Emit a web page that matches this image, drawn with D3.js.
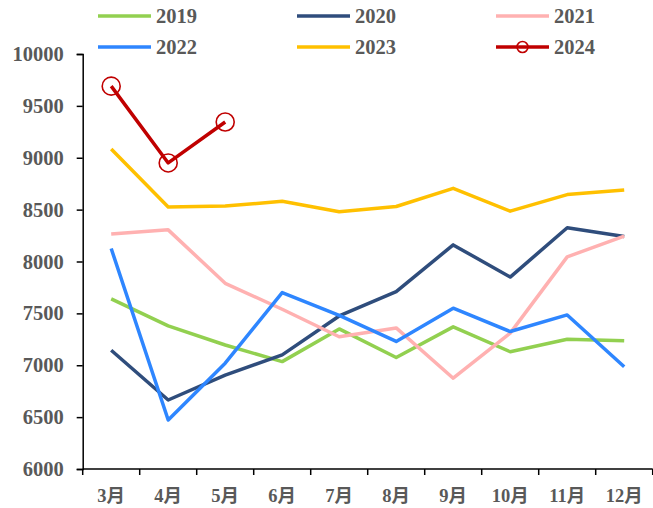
<!DOCTYPE html>
<html>
<head>
<meta charset="utf-8">
<script src="https://cdn.jsdelivr.net/npm/d3@7/dist/d3.min.js"></script>
<style>
  html, body { margin: 0; padding: 0; background: #fff; }
  svg { display: block; }
  text { font-family: "Liberation Serif", "Times New Roman", "Noto Sans CJK SC", serif; font-weight: bold; fill: #595959; }
</style>
</head>
<body>
<svg id="chart" width="653" height="508"></svg>
<script>
// Monthly categories and y-axis ticks
const months = ["3月", "4月", "5月", "6月", "7月", "8月", "9月", "10月", "11月", "12月"];
const yTicks = [6000, 6500, 7000, 7500, 8000, 8500, 9000, 9500, 10000];

// Series values per year (3月 → 12月)
const v2019 = [7640, 7380, 7195, 7035, 7350, 7075, 7370, 7130, 7250, 7235];
const v2020 = [7145, 6665, 6905, 7100, 7475, 7710, 8160, 7850, 8325, 8240];
const v2021 = [8265, 8305, 7790, 7540, 7275, 7360, 6875, 7310, 8045, 8245];
const v2022 = [8125, 6472, 7020, 7700, 7480, 7230, 7550, 7325, 7485, 6985];
const v2023 = [9085, 8525, 8535, 8580, 8480, 8530, 8705, 8485, 8645, 8690];
const v2024 = [9690, 8950, 9345];

const series = [
  { name: "2019", values: v2019, color: "#92D050" },
  { name: "2020", values: v2020, color: "#2F4D7C" },
  { name: "2021", values: v2021, color: "#FFB1B1" },
  { name: "2022", values: v2022, color: "#2E86FF" },
  { name: "2023", values: v2023, color: "#FFC000" },
  { name: "2024", values: v2024, color: "#C00000", marker: true }
];

const svg = d3.select("#chart");
const plotLeft = 82.7, plotRight = 652.7, plotTop = 54, plotBottom = 469;

const x = d3.scaleBand().domain(months).range([plotLeft, plotRight]);
const y = d3.scaleLinear().domain([6000, 10000]).range([plotBottom, plotTop]);

// Y axis
const yAxis = svg.append("g")
  .attr("transform", `translate(${plotLeft},0)`)
  .call(d3.axisLeft(y).tickValues(yTicks).tickSize(6).tickPadding(13).tickFormat(d3.format("d")));
yAxis.select(".domain").attr("stroke", "#000").attr("stroke-width", 1.5);
yAxis.selectAll(".tick line").attr("stroke", "#000").attr("stroke-width", 1.5);
yAxis.selectAll(".tick text").attr("font-size", 20.5).style("fill", "#595959")
  .attr("font-family", "Liberation Serif, serif").attr("font-weight", "bold");

// X axis with ticks at band boundaries
const xAxisG = svg.append("g").attr("transform", `translate(0,${plotBottom})`);
xAxisG.append("line").attr("x1", plotLeft).attr("x2", plotRight).attr("y1", 0).attr("y2", 0)
  .attr("stroke", "#000").attr("stroke-width", 1.5);
const bounds = months.map(m => x(m)).concat([x(months[months.length - 1]) + x.bandwidth()]);
xAxisG.selectAll(".xt").data(bounds).join("line")
  .attr("x1", d => d).attr("x2", d => d).attr("y1", 0).attr("y2", 6)
  .attr("stroke", "#000").attr("stroke-width", 1.5);
xAxisG.selectAll(".xl").data(months).join("text")
  .attr("x", d => x(d) + x.bandwidth() / 2)
  .attr("y", 33)
  .attr("text-anchor", "middle")
  .attr("font-size", 18.5)
  .text(d => d);

// Lines
const line = d3.line()
  .x((d, i) => x(months[i]) + x.bandwidth() / 2)
  .y(d => y(d));

series.forEach(s => {
  svg.append("path")
    .datum(s.values)
    .attr("fill", "none")
    .attr("stroke", s.color)
    .attr("stroke-width", 3.5)
    .attr("stroke-linejoin", "round")
    .attr("d", line);
  if (s.marker) {
    svg.selectAll(null).data(s.values).join("circle")
      .attr("cx", (d, i) => x(months[i]) + x.bandwidth() / 2)
      .attr("cy", d => y(d))
      .attr("r", 9)
      .attr("fill", "none")
      .attr("stroke", s.color)
      .attr("stroke-width", 1.6);
  }
});

// Legend in two rows of three
const legendX = [98, 297, 496];
const legendY = [16, 47];
series.forEach((s, i) => {
  const lx = legendX[i % 3], ly = legendY[Math.floor(i / 3)];
  const g = svg.append("g");
  g.append("line").attr("x1", lx).attr("x2", lx + 53).attr("y1", ly).attr("y2", ly)
    .attr("stroke", s.color).attr("stroke-width", 3.5);
  if (s.marker) {
    g.append("circle").attr("cx", lx + 26.5).attr("cy", ly).attr("r", 5.5)
      .attr("fill", "none").attr("stroke", s.color).attr("stroke-width", 1.6);
  }
  g.append("text").attr("x", lx + 58).attr("y", ly + 7).attr("font-size", 20.5).text(s.name);
});
</script>
</body>
</html>
